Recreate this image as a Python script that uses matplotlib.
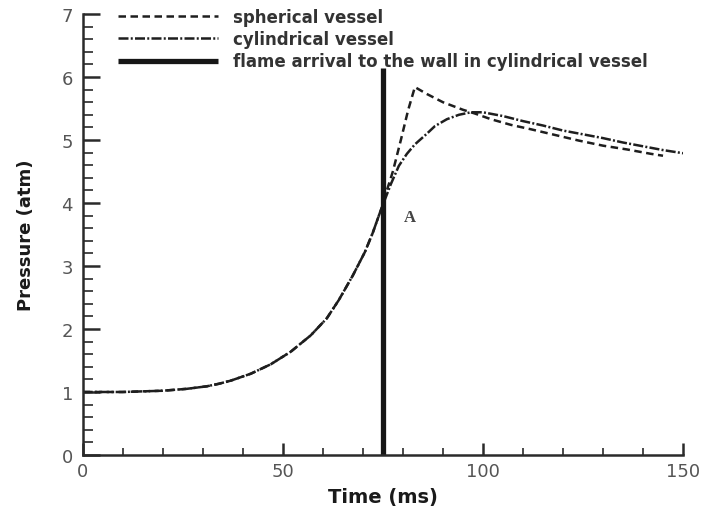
import matplotlib
matplotlib.use("Agg")
import matplotlib.pyplot as plt
from matplotlib.ticker import MultipleLocator

# Common pressure rise (both vessels) up to flame arrival at the wall
time_rise = [0, 10, 20, 26, 31, 34, 37, 42, 47, 52, 57, 61, 64, 67.5, 70.5,
             72.5, 74, 75]
pressure_rise = [1.0, 1.0, 1.02, 1.05, 1.09, 1.13, 1.18, 1.29, 1.44, 1.64, 1.9,
                 2.17, 2.46, 2.85, 3.22, 3.53, 3.8, 3.97]

# Spherical vessel after point A
time_sph = [76, 77.5, 79.5, 81.3, 83, 86, 90, 95, 98, 102, 107, 112, 118, 124,
            130, 136, 142, 145]
pressure_sph = [4.2, 4.5, 5.0, 5.47, 5.84, 5.73, 5.6, 5.48, 5.42, 5.33, 5.24, 5.17,
                5.08, 4.99, 4.91, 4.85, 4.78, 4.75]

# Cylindrical vessel after point A
time_cyl = [77, 79, 81, 83, 86, 88, 91, 94, 97, 100, 105, 110, 115, 120, 125,
            130, 135, 140, 145, 150]
pressure_cyl = [4.3, 4.59, 4.78, 4.93, 5.1, 5.22, 5.33, 5.4, 5.44, 5.44, 5.38,
                5.3, 5.23, 5.15, 5.09, 5.03, 4.96, 4.9, 4.84, 4.79]

# Flame arrival to the wall (cylindrical vessel)
arrival_time = 75
arrival_top = 6.15

legend_labels = ["spherical vessel", "cylindrical vessel",
                 "flame arrival to the wall in cylindrical vessel"]

fig = plt.figure(figsize=(7.03, 5.10), dpi=100)
ax = fig.add_axes([0.1176, 0.1059, 0.8540, 0.8647])

line_col = "#1e1e1e"
t_sph = time_rise + time_sph
p_sph = pressure_rise + pressure_sph
t_cyl = time_rise + time_cyl
p_cyl = pressure_rise + pressure_cyl

ax.plot(t_sph, p_sph, color=line_col, lw=1.8, dashes=(3.0, 1.8),
        solid_joinstyle="round", label=legend_labels[0])
ax.plot(t_cyl, p_cyl, color=line_col, lw=1.8, dashes=(4.0, 0.9, 0.8, 0.9),
        solid_joinstyle="round", label=legend_labels[1])
ax.plot([arrival_time, arrival_time], [0, arrival_top], color="#161616", lw=3.8,
        solid_capstyle="butt", label=legend_labels[2])

ax.text(80.2, 3.78, "A", family="Liberation Serif", fontsize=12,
        fontweight="bold", color="#444444", va="center", ha="left")

ax.set_xlim(0, 150)
ax.set_ylim(0, 7)
ax.xaxis.set_major_locator(MultipleLocator(50))
ax.xaxis.set_minor_locator(MultipleLocator(10))
ax.yaxis.set_major_locator(MultipleLocator(1))
ax.yaxis.set_minor_locator(MultipleLocator(0.2))

for side in ("top", "right"):
    ax.spines[side].set_visible(False)
for side in ("left", "bottom"):
    ax.spines[side].set_linewidth(1.8)
    ax.spines[side].set_color("#2a2a2a")

ax.tick_params(axis="y", which="major", direction="in", length=12, width=1.8,
               color="#2a2a2a", labelsize=13, labelcolor="#555555", pad=7)
ax.tick_params(axis="y", which="minor", direction="in", length=7, width=1.2,
               color="#2a2a2a")
ax.tick_params(axis="x", which="major", direction="in", length=8.5, width=1.8,
               color="#2a2a2a", labelsize=13, labelcolor="#555555", pad=5)
ax.tick_params(axis="x", which="minor", direction="in", length=5, width=1.2,
               color="#2a2a2a")

ax.set_xlabel("Time (ms)", fontsize=14, fontweight="bold", color="#1a1a1a",
              labelpad=5)
ax.set_ylabel("Pressure (atm)", fontsize=13, fontweight="bold", color="#1a1a1a",
              labelpad=19)

leg = ax.legend(loc="upper left", bbox_to_anchor=(118 / 703, 1 - 9 / 510),
                bbox_transform=fig.transFigure, frameon=False,
                prop={"weight": "bold", "size": 12}, handlelength=6.0,
                handletextpad=0.9, labelspacing=0.25, borderpad=0,
                borderaxespad=0)
for t in leg.get_texts():
    t.set_color("#333333")

fig.savefig("out.png", dpi=100)
